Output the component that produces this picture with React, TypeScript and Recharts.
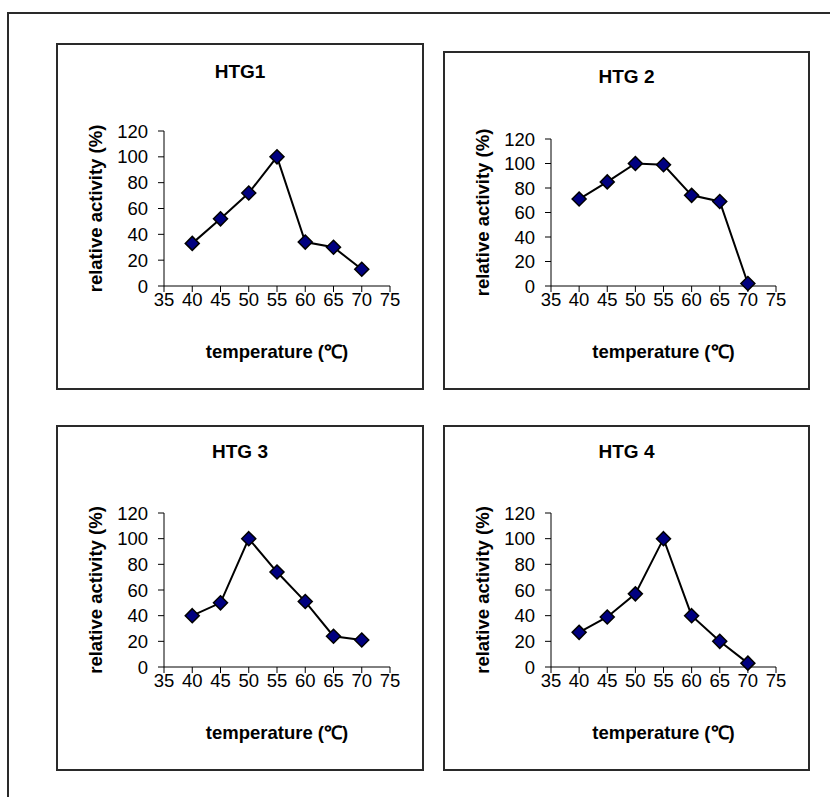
import React from "react";
import { LineChart, Line, XAxis, YAxis } from "recharts";

const temperatures = [40, 45, 50, 55, 60, 65, 70];
const htg1 = [33, 52, 72, 100, 34, 30, 13];
const htg2 = [71, 85, 100, 99, 74, 69, 2];
const htg3 = [40, 50, 100, 74, 51, 24, 21];
const htg4 = [27, 39, 57, 100, 40, 20, 3];
const titles = ["HTG1", "HTG 2", "HTG 3", "HTG 4"];
const xTicks = [35, 40, 45, 50, 55, 60, 65, 70, 75];
const yTicks = [0, 20, 40, 60, 80, 100, 120];
const xLabel = "temperature (℃)";
const yLabel = "relative activity (%)";

const seriesList = [htg1, htg2, htg3, htg4];

const panels = [
  { left: 56, top: 43, width: 368, height: 347, titleY: 29 },
  { left: 443, top: 51, width: 367, height: 339, titleY: 26 },
  { left: 56, top: 425, width: 368, height: 346, titleY: 27 },
  { left: 443, top: 425, width: 367, height: 346, titleY: 27 },
];

const FONT = "'Liberation Sans', Arial, Helvetica, sans-serif";
const BORDER = 2;

const Diamond = (props: any) => {
  const { cx, cy, index } = props;
  if (cx == null || cy == null) return <g key={`e-${index}`} />;
  const r = 7;
  return (
    <path
      key={`d-${index}`}
      d={`M${cx},${cy - r}L${cx + r},${cy}L${cx},${cy + r}L${cx - r},${cy}Z`}
      fill="#000080"
      stroke="#000"
      strokeWidth={1.5}
    />
  );
};

function Panel({ idx }: { idx: number }) {
  const p = panels[idx];
  const values = seriesList[idx];
  const data = temperatures.map((t, i) => ({ t, v: values[i] }));
  const w = p.width - 2 * BORDER;
  const h = p.height - 2 * BORDER;
  return (
    <div
      style={{
        position: "absolute",
        left: p.left,
        top: p.top,
        width: p.width,
        height: p.height,
        boxSizing: "border-box",
        border: `${BORDER}px solid #2a2a2a`,
        background: "#fff",
      }}
    >
      <div
        style={{
          position: "absolute",
          left: 0,
          width: w,
          top: p.titleY - 2 - 11,
          height: 22,
          lineHeight: "22px",
          textAlign: "center",
          fontWeight: "bold",
          fontSize: 19,
          color: "#000",
        }}
      >
        {titles[idx]}
      </div>
      <div style={{ position: "absolute", left: 0, top: 0 }}>
        <LineChart
          width={w}
          height={h}
          data={data}
          margin={{ top: 86, right: 32, bottom: 0, left: 0 }}
        >
          <XAxis
            dataKey="t"
            type="number"
            domain={[35, 75]}
            ticks={xTicks}
            interval={0}
            height={102}
            tickSize={6}
            tickMargin={1}
            axisLine={{ stroke: "#000", strokeWidth: 1 }}
            tickLine={{ stroke: "#000", strokeWidth: 1 }}
            tick={{ fill: "#000", fontSize: 18.5 }}
            label={{
              value: xLabel,
              position: "insideBottom",
              offset: 30,
              style: { fontWeight: "bold", fontSize: 18.5, fill: "#000" },
            }}
          />
          <YAxis
            type="number"
            domain={[0, 120]}
            ticks={yTicks}
            interval={0}
            width={106}
            tickSize={6}
            tickMargin={10}
            axisLine={{ stroke: "#000", strokeWidth: 1 }}
            tickLine={{ stroke: "#000", strokeWidth: 1 }}
            tick={{ fill: "#000", fontSize: 18.5 }}
            label={{
              value: yLabel,
              angle: -90,
              position: "insideLeft",
              offset: 37,
              style: {
                textAnchor: "middle",
                fontWeight: "bold",
                fontSize: 18.5,
                fill: "#000",
              },
            }}
          />
          <Line
            dataKey="v"
            type="linear"
            stroke="#000"
            strokeWidth={2}
            dot={Diamond}
            activeDot={false}
            isAnimationActive={false}
          />
        </LineChart>
      </div>
    </div>
  );
}

export default function App() {
  return (
    <div
      style={{
        position: "absolute",
        left: 0,
        top: 0,
        width: 830,
        height: 797,
        overflow: "hidden",
        background: "#fff",
        fontFamily: FONT,
      }}
    >
      <div
        style={{
          position: "absolute",
          left: 7,
          top: 12,
          width: 840,
          height: 810,
          boxSizing: "border-box",
          border: "2px solid #2a2a2a",
        }}
      />
      {panels.map((_, i) => (
        <Panel key={i} idx={i} />
      ))}
    </div>
  );
}
